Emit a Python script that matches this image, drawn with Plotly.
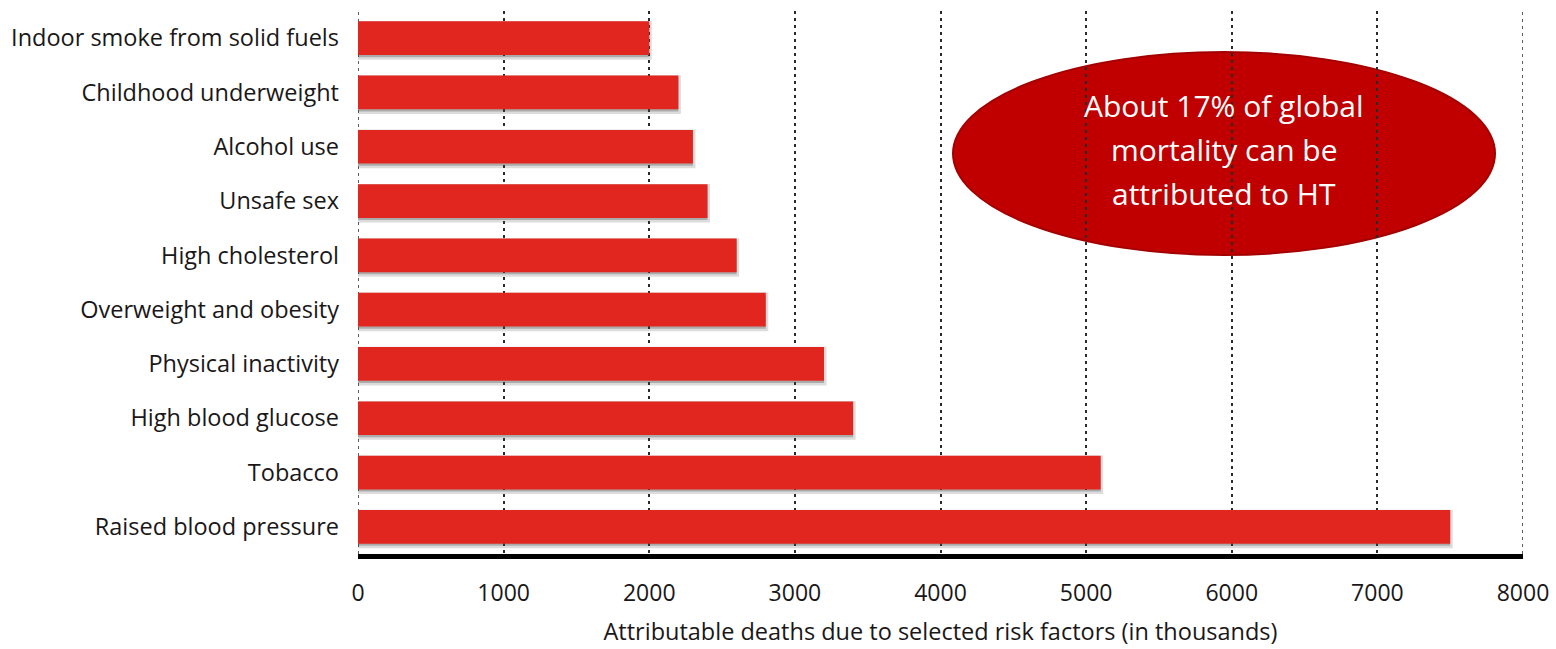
import plotly.graph_objects as go

# Risk factors, listed bottom-to-top as drawn on the category axis
risk_factors = [
    "Raised blood pressure",
    "Tobacco",
    "High blood glucose",
    "Physical inactivity",
    "Overweight and obesity",
    "High cholesterol",
    "Unsafe sex",
    "Alcohol use",
    "Childhood underweight",
    "Indoor smoke from solid fuels",
]
deaths_thousands = [7500, 5100, 3400, 3200, 2800, 2600, 2400, 2300, 2200, 2000]
x_ticks = [0, 1000, 2000, 3000, 4000, 5000, 6000, 7000, 8000]
callout_lines = ["About 17% of global", "mortality can be", "attributed to HT"]

BAR_RED = "#E0261F"
TEXT = "#1A1718"
FONT = "Open Sans"
GRID = "#2a2a2a"
GRID_DASH = "3px,4px"

# plot-area geometry in pixels
PL, PR, PT, PB = 358, 1523, 11, 554
PW, PH = PR - PL, PB - PT

fig = go.Figure()

# grid lines at both ends of the axis range (plotly skips edge grid lines)
for xv in (x_ticks[0], x_ticks[-1]):
    fig.add_shape(
        type="line", xref="x", yref="paper",
        x0=xv, x1=xv, y0=0, y1=1,
        line=dict(color=GRID, width=1.5, dash=GRID_DASH), layer="between",
    )

# soft drop shadow behind each bar
fig.add_trace(go.Bar(
    y=risk_factors, x=deaths_thousands, orientation="h",
    width=0.62, offset=-0.35,
    marker=dict(color="rgba(60,60,60,0.30)",
                line=dict(color="rgba(60,60,60,0.18)", width=5)),
    hoverinfo="skip", showlegend=False,
))
fig.add_trace(go.Bar(
    y=risk_factors, x=deaths_thousands, orientation="h",
    width=0.62, offset=-0.31,
    marker=dict(color=BAR_RED, line=dict(width=0)),
    showlegend=False,
))

# callout ellipse, above the grid but below the bars
fig.add_shape(
    type="circle", xref="paper", yref="paper",
    x0=(953 - PL) / PW, x1=(1495 - PL) / PW,
    y0=(PB - 255) / PH, y1=(PB - 52) / PH,
    fillcolor="#C00000", line=dict(color="#A30000", width=2), layer="between",
)
for line, ypix in zip(callout_lines, [105, 149, 193]):
    fig.add_annotation(
        xref="paper", yref="paper",
        x=(1224 - PL) / PW, y=(PB - ypix) / PH,
        xanchor="center", yanchor="middle",
        text=line, showarrow=False,
        font=dict(family=FONT, size=30, color="white"),
    )

fig.update_layout(
    width=1556, height=649,
    margin=dict(l=PL, r=1556 - PR, t=PT, b=649 - PB),
    paper_bgcolor="white", plot_bgcolor="white",
    barmode="overlay",
    font=dict(family=FONT, color=TEXT),
    xaxis=dict(
        range=[0, 8000], tickvals=x_ticks, ticktext=[str(v) for v in x_ticks],
        showgrid=True, gridcolor=GRID, gridwidth=1.5, griddash=GRID_DASH,
        zeroline=False, automargin=False,
        showline=True, linecolor="black", linewidth=5,
        ticks="", ticklabelstandoff=14,
        tickfont=dict(size=23, color=TEXT),
        title=dict(text="Attributable deaths due to selected risk factors (in thousands)",
                   font=dict(size=23.5, color=TEXT), standoff=18),
    ),
    yaxis=dict(
        range=[-0.5, 9.5], showgrid=False, zeroline=False, showline=False,
        ticks="", ticklabelstandoff=18, automargin=False,
        tickfont=dict(size=23.5, color=TEXT),
    ),
)

fig.write_html("out.html")
